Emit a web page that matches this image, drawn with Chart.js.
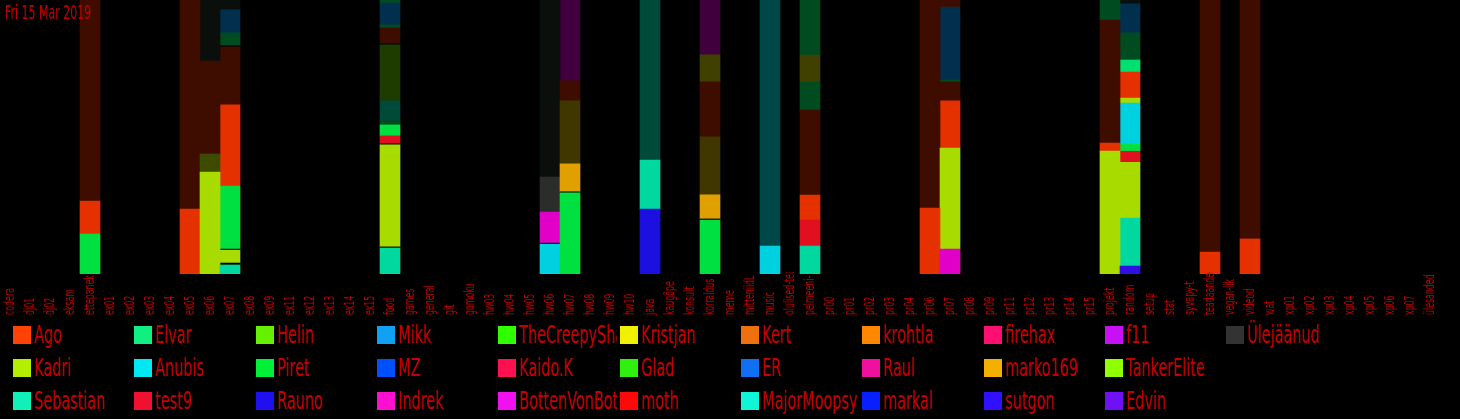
<!DOCTYPE html>
<html>
<head>
<meta charset="utf-8">
<script src="https://cdn.jsdelivr.net/npm/chart.js@4/dist/chart.umd.min.js"></script>
<style>
  html, body { margin: 0; padding: 0; background: #000; width: 1460px; height: 419px; overflow: hidden; }
  #wrap { position: relative; width: 1460px; height: 318px; }
  #title { position: absolute; left: 5px; top: 3px; color: #c40000; font: 20px 'DejaVu Sans', sans-serif; line-height: 19px; white-space: nowrap; transform: scaleX(0.55); transform-origin: 0 0; pointer-events: none; }
  #legend { position: absolute; left: 13px; top: 326px; display: grid; grid-template-rows: repeat(3, 33px); grid-auto-flow: column; grid-auto-columns: 121.33px; }
  .item { display: flex; align-items: flex-start; white-space: nowrap; }
  .box { width: 18px; height: 18px; flex: 0 0 18px; margin-right: 3px; }
  .lbl { width: 98px; height: 36px; margin-top: -6px; overflow: hidden; }
  .lbl span { display: inline-block; padding-top: 6px; color: #c40000; font: 24px 'DejaVu Sans', sans-serif; line-height: 18px; white-space: nowrap; transform: scaleX(0.6); transform-origin: 0 0; }
</style>
</head>
<body>
<div id="wrap"><canvas id="c" width="1460" height="318"></canvas><div id="title">Fri 15 Mar 2019</div></div>
<div id="legend"></div>
<script>
const categories = ['codera','dj01','dj02','eksam','ettepanek','ex01','ex02','ex03','ex04','ex05','ex06','ex07','ex08','ex09','ex11','ex12','ex13','ex14','ex15','food','games','general','git','gomoku','hw03','hw04','hw05','hw06','hw07','hw08','hw09','hw10','java','kaugõpe','konsult','korraldus','meme','mitteniidL','music','olulised-teated','pelmeeni-','pr00','pr01','pr02','pr03','pr04','pr06','pr07','pr08','pr09','pr11','pr12','pr13','pr14','pr15','projekt','random','setup','stat','syvapy-t','teadaanded','vegan-lik','videod','wat','xp01','xp02','xp03','xp04','xp05','xp06','xp07','ülesanded'];

const seriesNames = ['Ago','Kadri','Sebastian','Elvar','Anubis','test9','Helin','Piret','Rauno','Mikk','MZ','Indrek','TheCreepyShadow','Kaido.K','BottenVonBot','Kristjan','Glad','moth','Kert','ER','MajorMoopsy','krohtla','Raul','markal','firehax','marko169','sutgon','f11','TankerElite','Edvin','Ülejäänud'];
const seriesColors = ['#ff4208','#b4ee00','#10f0b8','#10f080','#00e8f4','#f01030','#64f000','#00f038','#2010f0','#10a0f4','#0050ff','#ff10d0','#30ff00','#ff1050','#f010f0','#f0f000','#30f010','#ff0808','#f07010','#1070f4','#10f4d8','#ff8800','#f010a0','#0820ff','#ff1070','#f4b000','#3010ff','#c810f4','#90ff00','#7010f4','#333333'];

// colours of the bar pieces (bright = recent, "~" = dim)
const shade = {
  'Ago':'#e53000','Ago~':'#3f0c00','Piret':'#00e040','Kadri':'#a8dc00','Kadri~':'#3e4a00',
  'Sebastian':'#00d8a0','Sebastian~':'#004a3a','Anubis':'#00d0e0','Anubis~':'#004848',
  'Indrek':'#e000c8','Rauno':'#1c10e0','test9':'#e01020','marko169':'#e0a000','marko169~':'#403600',
  'BottenVonBot~':'#40003e','Kristjan~':'#404000','Mikk~':'#00304e','Elvar~':'#004c20','Helin~':'#1c3c00',
  'Elvar':'#00e070','Ülejäänud':'#2a2d2a','Ülejäänud~':'#0a0f0b','gap':'#000000','sutgon':'#3010e0'
};

// percent shares per channel, bottom → top
const ettepanek = [['Piret',14.6],['Ago',12.0],['Ago~',73.4]];
const ex05 = [['Ago',23.7],['Ago~',76.3]];
const ex06 = [['Kadri',37.2],['Kadri~',6.6],['Ago~',33.9],['Ülejäänud~',22.3]];
const ex07 = [['Sebastian',3.3],['gap',0.7],['Kadri',4.7],['gap',0.4],['Piret',23.0],['Ago',29.6],['Ago~',21.2],['gap',0.4],['Elvar~',4.7],['Mikk~',8.4],['Ülejäänud~',3.6]];
const food = [['Sebastian',9.5],['gap',0.4],['Kadri',37.2],['gap',0.4],['test9',2.9],['Piret',4.0],['Elvar~',1.5],['Sebastian~',7.3],['Helin~',20.4],['gap',0.4],['Ago~',5.8],['Elvar~',1.1],['Mikk~',8.0],['Elvar~',1.3]];
const hw06 = [['Anubis',10.9],['gap',0.4],['Indrek',11.3],['Ülejäänud',12.8],['Ülejäänud~',64.6]];
const hw07 = [['Piret',29.6],['gap',0.4],['marko169',10.2],['marko169~',23.0],['Ago~',7.3],['BottenVonBot~',29.5]];
const java = [['Rauno',23.7],['Sebastian',17.9],['Sebastian~',58.4]];
const korraldus = [['Piret',19.7],['gap',0.4],['marko169',8.8],['marko169~',21.2],['Ago~',20.0],['Kristjan~',9.9],['BottenVonBot~',20.0]];
const music = [['Anubis',10.2],['Anubis~',89.8]];
const pelmeeni = [['Sebastian',10.2],['test9',9.5],['Ago',9.1],['Ago~',31.0],['Elvar~',10.2],['Kristjan~',9.9],['Elvar~',20.1]];
const pr06 = [['Ago',24.1],['Ago~',75.9]];
const pr07 = [['Indrek',9.1],['Kadri',36.9],['Ago',17.2],['Ago~',6.9],['Elvar~',0.7],['Mikk~',26.6],['Ago~',2.6]];
const projekt = [['Kadri',44.9],['Ago',2.9],['Ago~',44.9],['Elvar~',7.3]];
const random = [['sutgon',2.9],['Sebastian',17.5],['Kadri',20.4],['test9',4.0],['Piret',2.6],['Anubis',15.0],['Kadri',1.8],['Ago',9.5],['Elvar',4.4],['Elvar~',9.9],['Mikk~',10.6],['Ülejäänud~',1.4]];
const teadaand = [['Ago',8.0],['Ago~',92.0]];
const videod = [['Ago',12.8],['Ago~',87.2]];

const bars = { ettepanek, ex05, ex06, ex07, food, hw06, hw07, java, korraldus, music, 'pelmeeni-': pelmeeni, pr06, pr07, projekt, random, teadaanded: teadaand, videod };

const layerCount = Math.max(...Object.values(bars).map(b => b.length));
const datasets = [];
for (let k = 0; k < layerCount; k++) {
  datasets.push({
    label: 'layer' + k,
    data: categories.map(c => (bars[c] && bars[c][k]) ? bars[c][k][1] : null),
    backgroundColor: categories.map(c => (bars[c] && bars[c][k]) ? shade[bars[c][k][0]] : '#000'),
    borderWidth: 0,
    barPercentage: 1,
    categoryPercentage: 1
  });
}

// narrow vertical category labels, read bottom-to-top, clipped just under the bars
const verticalLabels = {
  id: 'verticalLabels',
  afterDraw(chart) {
    const { ctx, scales: { x }, chartArea } = chart;
    ctx.save();
    ctx.beginPath();
    ctx.rect(0, chartArea.bottom - 2, chart.width, chart.height - chartArea.bottom + 2);
    ctx.clip();
    ctx.fillStyle = '#c40000';
    ctx.font = "14px 'DejaVu Sans', sans-serif";
    ctx.textAlign = 'left';
    ctx.textBaseline = 'middle';
    categories.forEach((c, i) => {
      const px = x.getPixelForTick(i);
      ctx.save();
      ctx.translate(px, chartArea.bottom + 41);
      ctx.rotate(-Math.PI / 2);
      ctx.scale(0.56, 1);
      ctx.fillText(c, 0, 0);
      ctx.restore();
    });
    ctx.restore();
  }
};

new Chart(document.getElementById('c'), {
  type: 'bar',
  data: { labels: categories, datasets },
  plugins: [verticalLabels],
  options: {
    responsive: false,
    animation: false,
    layout: { padding: { left: 0, right: 20, top: 0, bottom: 0 } },
    plugins: { legend: { display: false }, tooltip: { enabled: false } },
    scales: {
      x: {
        stacked: true,
        grid: { display: false, drawTicks: false },
        border: { display: false },
        ticks: { display: false },
        afterFit: s => { s.height = 44; }
      },
      y: { stacked: true, display: false, min: 0, max: 100 }
    }
  }
});

const legend = document.getElementById('legend');
seriesNames.forEach((n, i) => {
  const it = document.createElement('div'); it.className = 'item';
  const b = document.createElement('div'); b.className = 'box'; b.style.background = seriesColors[i];
  const t = document.createElement('div'); t.className = 'lbl';
  const s = document.createElement('span'); s.textContent = n; t.appendChild(s);
  it.appendChild(b); it.appendChild(t); legend.appendChild(it);
});
</script>
</body>
</html>
